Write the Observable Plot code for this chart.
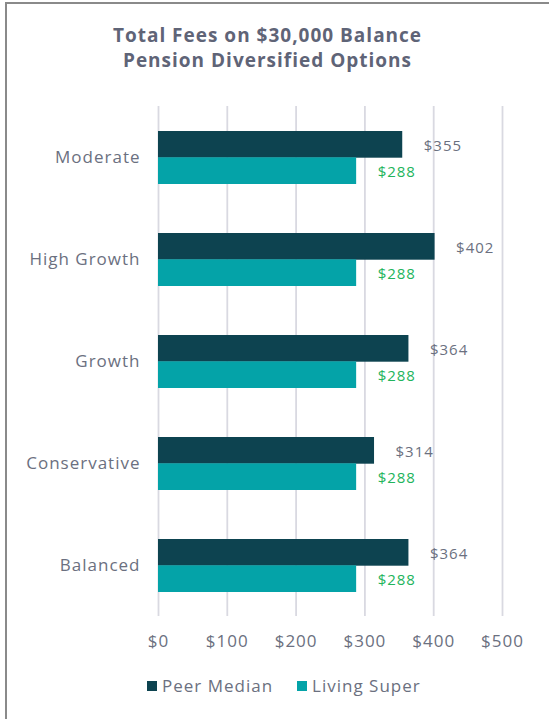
<!DOCTYPE html>
<html>
<head>
<meta charset="utf-8">
<script src="https://cdn.jsdelivr.net/npm/d3@7"></script>
<script src="https://cdn.jsdelivr.net/npm/@observablehq/plot@0.6"></script>
<style>
  html, body { margin: 0; padding: 0; background: #fff; }
  body { width: 549px; height: 719px; position: relative; overflow: hidden; font-family: "Open Sans", "Noto Sans", sans-serif; }
  #frame { position: absolute; left: 5px; top: 2px; width: 600px; height: 800px; border-left: 2px solid #8a8a8a; border-top: 2px solid #8a8a8a; }
  #title { position: absolute; left: 0; width: 535px; top: 23px; text-align: center; font-weight: 700; font-size: 19px; line-height: 25px; color: #5f6477; letter-spacing: 1px; }
  #title div { height: 25px; }
  #chart { position: absolute; left: 0; top: 90px; }
  #legend { position: absolute; left: 147px; top: 674px; display: flex; align-items: center; font-size: 17px; color: #6b7080; letter-spacing: 1px; }
  .sw { display: inline-block; width: 10px; height: 10px; margin-right: 5px; }
  .item { display: flex; align-items: center; margin-right: 24px; }
</style>
</head>
<body>
<div id="frame"></div>
<div id="title"><div>Total Fees on $30,000 Balance</div><div>Pension Diversified Options</div></div>
<div id="chart"></div>
<div id="legend"></div>
<script>
const categories = ["Moderate", "High Growth", "Growth", "Conservative", "Balanced"];
const seriesNames = ["Peer Median", "Living Super"];
const peerMedian = [355, 402, 364, 314, 364];
const livingSuper = [288, 288, 288, 288, 288];
const xTicks = [0, 100, 200, 300, 400, 500];
const colors = ["#0d4350", "#04a3a8"];

const peerData = categories.map((c, i) => ({category: c, value: peerMedian[i]}));
const livingData = categories.map((c, i) => ({category: c, value: livingSuper[i]}));
const fmt = v => "$" + v;

const half = 26.3;
const chart = Plot.plot({
  width: 549,
  height: 566,
  marginLeft: 158,
  marginRight: 47,
  marginTop: 16,
  marginBottom: 40,
  style: {fontFamily: "'Open Sans', 'Noto Sans', sans-serif", color: "#6b7080", background: "transparent"},
  x: {domain: [0, 500], ticks: xTicks, tickFormat: fmt, label: null},
  y: {domain: categories, paddingInner: 0.485, paddingOuter: 0.24, label: null},
  marks: [
    Plot.ruleX(xTicks, {stroke: "#d9d9e1", strokeWidth: 1.8}),
    Plot.barX(peerData, {x: "value", y: "category", fill: colors[0], insetBottom: half}),
    Plot.barX(livingData, {x: "value", y: "category", fill: colors[1], insetTop: half}),
    Plot.text(peerData, {x: "value", y: "category", text: d => fmt(d.value), dx: 21, dy: -12, textAnchor: "start", fill: "#6b7080", fontSize: 15}),
    Plot.text(livingData, {x: "value", y: "category", text: d => fmt(d.value), dx: 21, dy: 14, textAnchor: "start", fill: "#22b45c", fontSize: 15}),
    Plot.axisX({ticks: xTicks, tickFormat: fmt, tickSize: 0, tickPadding: 18, fontSize: 17, fill: "#6b7080", label: null}),
    Plot.axisY({tickSize: 0, tickPadding: 18, fontSize: 17, fill: "#6b7080", label: null})
  ]
});
chart.style.letterSpacing = "1px";
document.getElementById("chart").appendChild(chart);

const legend = document.getElementById("legend");
seriesNames.forEach((name, i) => {
  const item = document.createElement("span");
  item.className = "item";
  const sw = document.createElement("span");
  sw.className = "sw";
  sw.style.background = colors[i];
  item.appendChild(sw);
  item.appendChild(document.createTextNode(name));
  legend.appendChild(item);
});
</script>
</body>
</html>
